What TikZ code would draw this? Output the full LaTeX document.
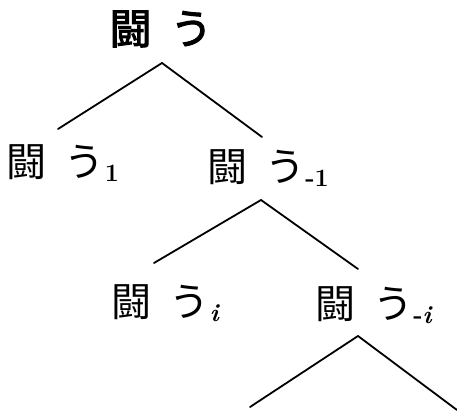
\documentclass[tikz,border=0pt]{standalone}
\usepackage{fontspec}
\newfontfamily\jp[AutoFakeBold=2.5]{Noto Sans CJK JP}
\newcommand{\gap}{\hspace{0.45em}}
\newcommand{\subx}[1]{\raisebox{-0.12em}{\normalfont\bfseries\fontsize{25}{25}\selectfont #1}}
\tikzset{
  word/.style={inner sep=0pt, font=\jp\fontsize{40}{40}\selectfont},
  topword/.style={inner sep=0pt, font=\jp\bfseries\fontsize{42}{42}\selectfont},
  branch/.style={line width=1.8pt, line cap=round, line join=miter}
}
\begin{document}
\begin{tikzpicture}[x=1pt,y=-1pt]
\useasboundingbox (0,0) rectangle (457,411);
\node[topword] (top) at (161,29) {闘\gap う};
\node[word] (n1) at (63,163) {闘\gap う\subx{1}};
\node[word] (n2) at (268,168) {闘\gap う\subx{-1}};
\node[word] (n3) at (166,303) {闘\gap う\subx{\textit{i}}};
\node[word] (n4) at (374,305) {闘\gap う\subx{-\textit{i}}};
\coordinate (a0) at (162,63);
\coordinate (l0) at (58,129);
\coordinate (r0) at (262,137);
\coordinate (a1) at (261,200);
\coordinate (l1) at (154,263);
\coordinate (r1) at (358,269);
\coordinate (a2) at (358,336);
\coordinate (l2) at (250,407);
\coordinate (r2) at (457,410);
\draw[branch] (l0) -- (a0) -- (r0);
\draw[branch] (l1) -- (a1) -- (r1);
\draw[branch] (l2) -- (a2) -- (r2);
\end{tikzpicture}
\end{document}
